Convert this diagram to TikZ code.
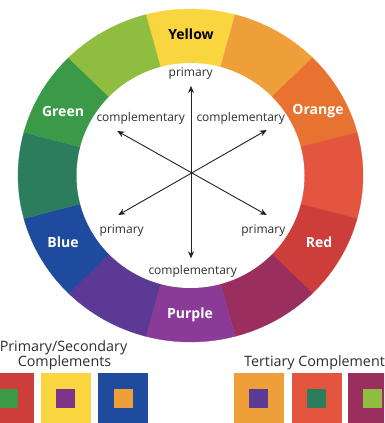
\documentclass[tikz,border=0pt]{standalone}
\usepackage{fontspec}
\setmainfont{Open Sans}
\usetikzlibrary{arrows.meta}
\definecolor{cY}{HTML}{F9D640}
\definecolor{cYO}{HTML}{EF9F3A}
\definecolor{cO}{HTML}{E8722F}
\definecolor{cRO}{HTML}{E4553F}
\definecolor{cR}{HTML}{CD3E3A}
\definecolor{cRP}{HTML}{9A2E5F}
\definecolor{cP}{HTML}{8A3B97}
\definecolor{cBP}{HTML}{5B3995}
\definecolor{cB}{HTML}{1F4B9E}
\definecolor{cBG}{HTML}{2C7D5E}
\definecolor{cG}{HTML}{3A9A48}
\definecolor{cYG}{HTML}{8FBD3F}
\definecolor{txtgray}{HTML}{2E2E2E}
\definecolor{arrgray}{HTML}{222222}
\begin{document}
\begin{tikzpicture}[x=1pt,y=-1pt,
  wlabel/.style={font=\bfseries\fontsize{14}{14}\selectfont, text=white, inner sep=0pt},
  ilabel/.style={font=\fontsize{12}{12}\selectfont, text=txtgray, inner sep=0pt},
  blabel/.style={font=\fontsize{14.3}{14.3}\selectfont, text=txtgray, inner sep=0pt},
  arr/.style={{Stealth[length=7pt,width=6pt]}-{Stealth[length=7pt,width=6pt]}, line width=0.9pt, draw=arrgray},
  bigsq/.style={minimum size=50pt, inner sep=0pt, outer sep=0pt},
  smallsq/.style={minimum size=19pt, inner sep=0pt, outer sep=0pt}]
\clip (0,0) rectangle (384,423);
\fill[white] (0,0) rectangle (384,423);
% wheel segments
\begin{scope}[xshift=190.5pt, yshift=-175.5pt, x=172.5pt, y=166.5pt]
\foreach \c [count=\i from 0] in {cY,cYO,cO,cRO,cR,cRP,cP,cBP,cB,cBG,cG,cYG}{
  \pgfmathsetmacro\a{90-30*\i}
  \filldraw[fill=\c, draw=\c, line width=0.3pt] (0,0) -- (\a+15:1) arc[start angle=\a+15, end angle=\a-15, radius=1] -- cycle;
}
\end{scope}
\fill[white] (190.5,175.5) ellipse[x radius=114pt, y radius=112.5pt];
% wheel labels
\node[wlabel, text=black] (yellow) at (191,34) {Yellow};
\node[wlabel] (orange) at (318,111) {Orange};
\node[wlabel] (red) at (319,242) {Red};
\node[wlabel] (purple) at (190,315) {Purple};
\node[wlabel] (blue) at (63,242) {Blue};
\node[wlabel] (green) at (63,111) {Green};
% inner labels
\node[ilabel] (pt) at (190.7,74) {primary};
\node[ilabel] (cl) at (140.7,118.3) {complementary};
\node[ilabel] (cr) at (240.7,118.3) {complementary};
\node[ilabel] (pl) at (121.7,230.7) {primary};
\node[ilabel] (pr) at (263.3,230.7) {primary};
\node[ilabel] (cb) at (192.7,271) {complementary};
% arrows
\coordinate (t) at (191,86);
\coordinate (b) at (191,258.3);
\coordinate (ul) at (117.3,131);
\coordinate (lr) at (266.7,215);
\coordinate (ur) at (266.7,130);
\coordinate (ll) at (118.3,215);
\draw[arr] (t) -- (b);
\draw[arr] (ul) -- (lr);
\draw[arr] (ur) -- (ll);
% bottom
\node[blabel] (ps) at (63.5,348) {Primary/Secondary};
\node[blabel] (pc) at (64.5,363) {Complements};
\node[blabel, anchor=west] (tc) at (244,363) {Tertiary Complement};
\node[bigsq, fill=cR] (s1) at (8.5,398) {};
\node[smallsq, fill=cG] (i1) at (s1) {};
\node[bigsq, fill=cY] (s2) at (65.5,398) {};
\node[smallsq, fill=cP!90!black] (i2) at (s2) {};
\node[bigsq, fill=cB] (s3) at (123,398) {};
\node[smallsq, fill=cYO] (i3) at (s3) {};
\node[bigsq, fill=cYO] (s4) at (258.5,398) {};
\node[smallsq, fill=cBP] (i4) at (s4) {};
\node[bigsq, fill=cRO] (s5) at (316.5,398) {};
\node[smallsq, fill=cBG] (i5) at (s5) {};
\node[bigsq, fill=cRP] (s6) at (372.5,398) {};
\node[smallsq, fill=cYG] (i6) at (s6) {};
\end{tikzpicture}
\end{document}
